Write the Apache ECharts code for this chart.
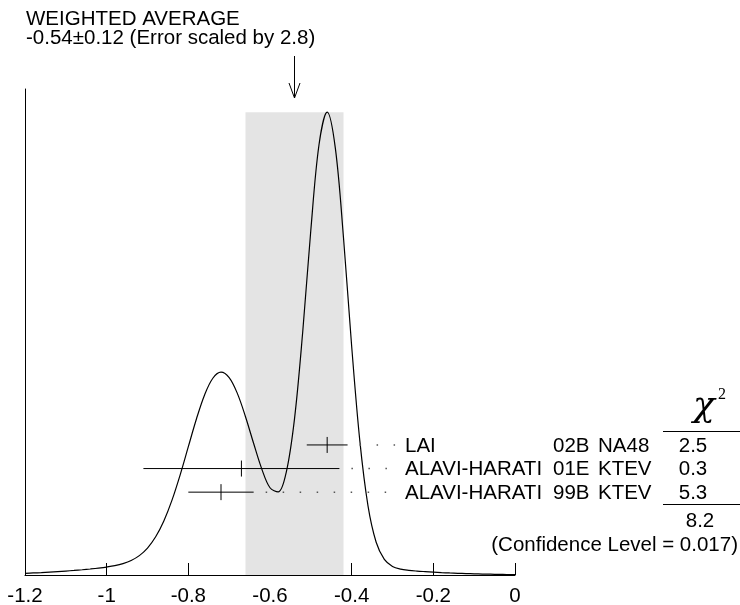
<!DOCTYPE html>
<html>
<head>
<meta charset="utf-8">
<script src="https://cdn.jsdelivr.net/npm/echarts@6/dist/echarts.min.js"></script>
<style>
  html, body { margin: 0; padding: 0; background: #fff; }
  #chart { width: 740px; height: 605px; }
</style>
</head>
<body>
<div id="chart"></div>
<script>
// ideogram curve (x value, relative height)
const curveX = [
  -1.2, -1.18, -1.16, -1.14, -1.12, -1.1, -1.08, -1.06, -1.04, -1.02,
  -1.0, -0.98, -0.96, -0.94, -0.92, -0.9, -0.88, -0.86, -0.84, -0.82,
  -0.8, -0.78, -0.76, -0.74, -0.72, -0.7, -0.68, -0.66, -0.64, -0.62,
  -0.6, -0.58, -0.56, -0.54, -0.52, -0.5, -0.48, -0.46, -0.44, -0.42,
  -0.4, -0.38, -0.36, -0.34, -0.32, -0.3, -0.28, -0.26, -0.24, -0.22,
  -0.2, -0.18, -0.16, -0.14, -0.12, -0.1, -0.08, -0.06, -0.04, -0.02, 0
];
const curveY = [
  0.0037, 0.0044, 0.0052, 0.0062, 0.0073, 0.0085, 0.0098, 0.0113, 0.0130, 0.0149,
  0.0172, 0.0202, 0.0247, 0.0314, 0.0419, 0.0582, 0.0825, 0.1167, 0.1617, 0.2164,
  0.2772, 0.3376, 0.3896, 0.4251, 0.4382, 0.4265, 0.3924, 0.3420, 0.2841, 0.2288,
  0.1885, 0.1796, 0.2229, 0.3374, 0.5239, 0.7453, 0.9296, 1.0000, 0.9221, 0.7287,
  0.4943, 0.2898, 0.1495, 0.0708, 0.0338, 0.0186, 0.0127, 0.0101, 0.0085, 0.0073,
  0.0062, 0.0052, 0.0044, 0.0037, 0.0031, 0.0025, 0.0021, 0.0017, 0.0013, 0.0011, 0.0009
];

// measurements
const measValues = [-0.46, -0.67, -0.72];
const measErrors = [0.05, 0.24, 0.08];
const measAuthors = ["LAI", "ALAVI-HARATI", "ALAVI-HARATI"];
const measRefs = ["02B", "01E", "99B"];
const measExpts = ["NA48", "KTEV", "KTEV"];
const measChi2 = ["2.5", "0.3", "5.3"];

// weighted average
const avgValue = -0.54;
const avgError = 0.12;
const avgScale = "2.8";
const chi2Total = "8.2";
const confLevel = "0.017";

const FONT = "'Liberation Sans', Arial, Helvetica, sans-serif";
const SERIF = "'DejaVu Serif', 'Liberation Serif', serif";
const INK = "#000";
const FS = "20.5px ";

const chart = echarts.init(document.getElementById("chart"));

const option = {
  backgroundColor: "#fff",
  animation: false,
  grid: { left: 25, right: 225, top: 89, bottom: 30, outerBoundsMode: "none" },
  xAxis: {
    type: "value",
    min: -1.2,
    max: 0,
    interval: 0.2,
    axisLine: { show: true, onZero: false, lineStyle: { color: INK, width: 1 } },
    axisTick: { show: true, inside: true, length: 12, lineStyle: { color: INK } },
    axisLabel: { color: INK, fontSize: 20.5, fontFamily: FONT, margin: 11 },
    splitLine: { show: false },
  },
  yAxis: [
    {
      type: "value",
      min: 0,
      max: 1.05,
      position: "left",
      axisLine: { show: true, onZero: false, lineStyle: { color: INK, width: 1 } },
      axisTick: { show: false },
      axisLabel: { show: false },
      splitLine: { show: false },
    },
    {
      // row positions for the measurements
      type: "value",
      min: -15.08,
      max: 5.51,
      inverse: true,
      show: false,
    },
  ],
  series: [
    {
      name: "band",
      type: "custom",
      clip: false,
      z: 1,
      data: [[avgValue, avgError]],
      renderItem: (params, api) => {
        const m = api.value(0);
        const e = api.value(1);
        const tl = api.coord([m - e, 1]);
        const br = api.coord([m + e, 0]);
        const x = api.coord([m, 0])[0];
        return {
          type: "group",
          children: [
            {
              type: "rect",
              shape: { x: tl[0], y: tl[1], width: br[0] - tl[0], height: br[1] - tl[1] },
              style: { fill: "#e4e4e4" },
            },
            {
              type: "line",
              shape: { x1: x, y1: 56, x2: x, y2: 98 },
              style: { stroke: INK, lineWidth: 1 },
            },
            {
              type: "polyline",
              shape: { points: [[x - 5.5, 83], [x, 98], [x + 5.5, 83]] },
              style: { stroke: INK, lineWidth: 1, fill: null },
            },
          ],
        };
      },
    },
    {
      name: "ideogram",
      type: "line",
      z: 3,
      data: curveX.map((x, i) => [x, curveY[i]]),
      showSymbol: false,
      smooth: 0.35,
      lineStyle: { color: INK, width: 1.2 },
    },
    {
      name: "measurements",
      type: "custom",
      clip: false,
      z: 4,
      yAxisIndex: 1,
      data: measValues.map((v, i) => [v, measErrors[i], i]),
      renderItem: (params, api) => {
        const i = params.dataIndex;
        const v = api.value(0);
        const e = api.value(1);
        const r = api.value(2);
        const c = api.coord([v, r]);
        const lo = api.coord([v - e, r]);
        const hi = api.coord([v + e, r]);
        const y = c[1];
        const txt = (x, s, align) => ({
          type: "text",
          x,
          y: y + 1,
          style: {
            text: s,
            fill: INK,
            font: FS + FONT,
            textAlign: align || "left",
            textVerticalAlign: "middle",
          },
        });
        return {
          type: "group",
          children: [
            {
              type: "line",
              shape: { x1: lo[0], y1: y, x2: hi[0], y2: y },
              style: { stroke: INK, lineWidth: 1 },
            },
            {
              type: "line",
              shape: { x1: c[0], y1: y - 8, x2: c[0], y2: y + 8 },
              style: { stroke: INK, lineWidth: 1 },
            },
            {
              type: "line",
              shape: { x1: hi[0] + 12, y1: y, x2: 399, y2: y },
              style: { stroke: "#555", lineWidth: 1.5, lineDash: [1.5, 15.5] },
            },
            txt(405, measAuthors[i]),
            txt(553, measRefs[i]),
            txt(598, measExpts[i]),
            txt(693, measChi2[i], "center"),
          ],
        };
      },
    },
  ],
  graphic: [
    {
      type: "text",
      left: 26,
      top: 9,
      style: { text: "WEIGHTED AVERAGE", fill: INK, font: FS + FONT },
    },
    {
      type: "text",
      left: 26,
      top: 28,
      style: {
        text: avgValue.toFixed(2) + "\u00b1" + avgError.toFixed(2) + " (Error scaled by " + avgScale + ")",
        fill: INK,
        font: FS + FONT,
      },
    },
    {
      type: "text",
      x: 704,
      y: 407,
      style: {
        text: "\u03c7",
        fill: INK,
        font: "italic 36px " + SERIF,
        textAlign: "center",
        textVerticalAlign: "middle",
      },
    },
    {
      type: "text",
      x: 718,
      y: 395,
      style: {
        text: "2",
        fill: INK,
        font: "16px 'Liberation Serif', serif",
        textAlign: "left",
        textVerticalAlign: "middle",
      },
    },
    {
      type: "line",
      shape: { x1: 663, y1: 431.5, x2: 740, y2: 431.5 },
      style: { stroke: INK, lineWidth: 1 },
    },
    {
      type: "line",
      shape: { x1: 663, y1: 504.5, x2: 740, y2: 504.5 },
      style: { stroke: INK, lineWidth: 1 },
    },
    {
      type: "text",
      x: 700,
      y: 521,
      style: { text: chi2Total, fill: INK, font: FS + FONT, textAlign: "center", textVerticalAlign: "middle" },
    },
    {
      type: "text",
      x: 738,
      y: 545,
      style: {
        text: "(Confidence Level = " + confLevel + ")",
        fill: INK,
        font: FS + FONT,
        textAlign: "right",
        textVerticalAlign: "middle",
      },
    },
  ],
};

chart.setOption(option);
window.addEventListener("resize", () => chart.resize());
</script>
</body>
</html>
